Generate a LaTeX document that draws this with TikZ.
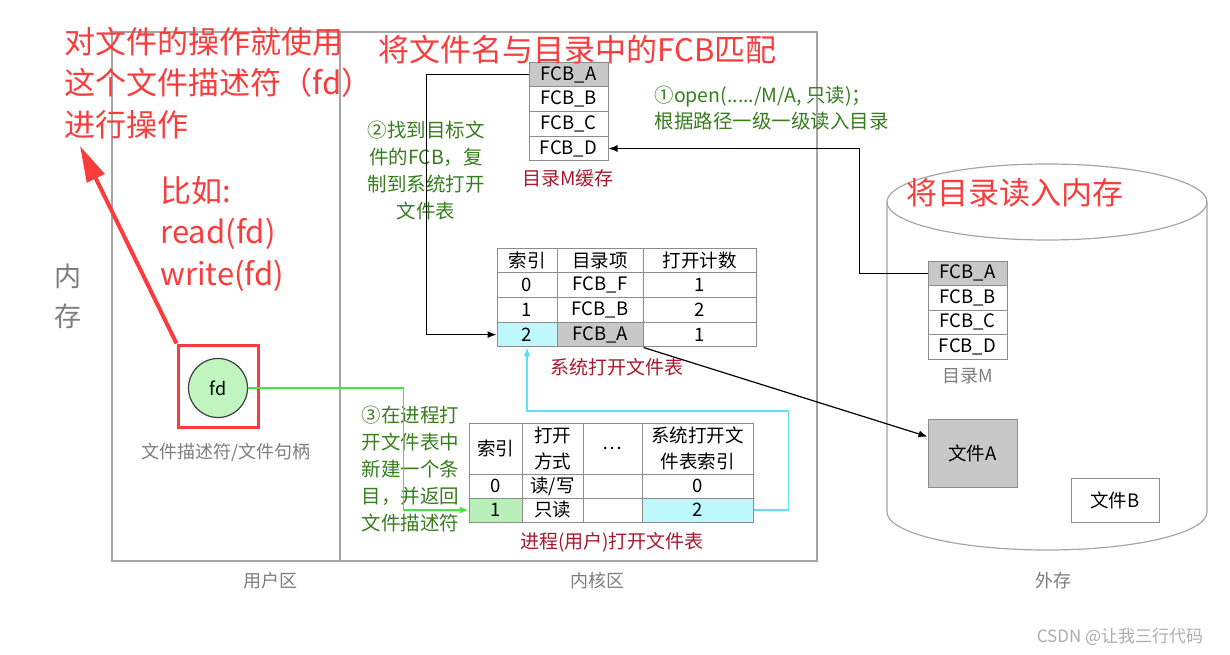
\documentclass[tikz,border=0pt]{standalone}
\usepackage{fontspec}
\setmainfont{Noto Sans CJK SC}
\usetikzlibrary{arrows.meta}
\definecolor{annored}{RGB}{250,60,60}
\definecolor{labelred}{RGB}{165,25,45}
\definecolor{stepgreen}{RGB}{55,125,30}
\definecolor{framegray}{RGB}{165,165,165}
\definecolor{textgray}{RGB}{125,125,125}
\definecolor{cellgray}{RGB}{200,200,200}
\definecolor{cellcyan}{RGB}{190,248,250}
\definecolor{cellgreen}{RGB}{185,240,185}
\definecolor{fdgreen}{RGB}{192,245,192}
\definecolor{linkgreen}{RGB}{60,235,60}
\definecolor{linkcyan}{RGB}{95,225,240}
\newcommand{\pxfont}[2]{\fontsize{#1}{#2}\selectfont}

\begin{document}
\begin{tikzpicture}[x=1pt,y=-1pt,
  frame/.style={draw=framegray, line width=1.2pt},
  cell/.style={draw=framegray!85!black, line width=1pt, inner sep=0pt, font=\pxfont{18.5}{26}, align=center},
  note/.style={text=annored, font=\pxfont{31}{41.5}, align=left},
  stepnote/.style={text=stepgreen, font=\pxfont{19.5}{27}},
  caption/.style={text=labelred, font=\pxfont{19}{22}},
  area/.style={text=textgray, font=\pxfont{18}{22}},
  link/.style={-{Latex[length=9pt,width=7pt]}, line width=1.2pt}]
\useasboundingbox (0,0) rectangle (1230,655);

% user area, kernel area, disk
\draw[frame] (112,32) rectangle (340,561);
\draw[frame] (340,32) rectangle (817,561);
\draw[frame] (887,202) -- (887,512) arc[start angle=180,end angle=360,x radius=160pt,y radius=38pt] -- (1207,202);
\draw[frame] (1047,202) ellipse[x radius=160pt,y radius=38pt];
\node[area] (user) at (270,581) {用户区};
\node[area] (kernel) at (597,581) {内核区};
\node[area] (disk) at (1053,581) {外存};
\node[area, font=\pxfont{27}{40}, align=center] (mem) at (68,296) {内\\存};

% directory M cached in memory
\node[cell, fill=cellgray, minimum width=79pt, minimum height=24.7pt] (mfcbA) at (568.5,74.4) {FCB\_A};
\foreach \n [count=\i] in {B,C,D}
  \node[cell, fill=white, minimum width=79pt, minimum height=24.7pt] (mfcb\n) at (568.5,74.4+24.7*\i) {FCB\_\n};
\node[caption] (mcap) at (568,178) {目录M缓存};

% directory M on disk
\node[cell, fill=cellgray, minimum width=79pt, minimum height=24.5pt] (dfcbA) at (967.5,273.3) {FCB\_A};
\foreach \n [count=\i] in {B,C,D}
  \node[cell, fill=white, minimum width=79pt, minimum height=24.5pt] (dfcb\n) at (967.5,273.3+24.5*\i) {FCB\_\n};
\node[area] (dcap) at (968,376) {目录M};
\node[cell, fill=cellgray, minimum width=89pt, minimum height=68pt] (filea) at (972.5,453) {文件A};
\node[cell, fill=white, minimum width=88pt, minimum height=44pt] (fileb) at (1115,500) {文件B};

% system open file table
\node[cell, minimum width=60pt, minimum height=24.75pt] (sha) at (527,260.4) {索引};
\node[cell, minimum width=86pt, minimum height=24.75pt] (shb) at (600,260.4) {目录项};
\node[cell, minimum width=113pt, minimum height=24.75pt] (shc) at (699.5,260.4) {打开计数};
\node[cell, minimum width=60pt, minimum height=24.75pt] (s0a) at (527,285.1) {0};
\node[cell, minimum width=86pt, minimum height=24.75pt] (s0b) at (600,285.1) {FCB\_F};
\node[cell, minimum width=113pt, minimum height=24.75pt] (s0c) at (699.5,285.1) {1};
\node[cell, minimum width=60pt, minimum height=24.75pt] (s1a) at (527,309.9) {1};
\node[cell, minimum width=86pt, minimum height=24.75pt] (s1b) at (600,309.9) {FCB\_B};
\node[cell, minimum width=113pt, minimum height=24.75pt] (s1c) at (699.5,309.9) {2};
\node[cell, fill=cellcyan, minimum width=60pt, minimum height=24.75pt] (s2a) at (527,334.6) {2};
\node[cell, fill=cellgray, minimum width=86pt, minimum height=24.75pt] (s2b) at (600,334.6) {FCB\_A};
\node[cell, minimum width=113pt, minimum height=24.75pt] (s2c) at (699.5,334.6) {1};
\node[caption] (scap) at (617,367) {系统打开文件表};

% process open file table
\node[cell, minimum width=53pt, minimum height=51pt] (pha) at (495.5,448.5) {索引};
\node[cell, minimum width=61pt, minimum height=51pt] (phb) at (552.5,448.5) {打开\\方式};
\node[cell, minimum width=59pt, minimum height=51pt] (phc) at (612.5,448.5) {\dots};
\node[cell, minimum width=111pt, minimum height=51pt] (phd) at (697.5,448.5) {系统打开文\\件表索引};
\node[cell, minimum width=53pt, minimum height=24pt] (p0a) at (495.5,486) {0};
\node[cell, minimum width=61pt, minimum height=24pt] (p0b) at (552.5,486) {读/写};
\node[cell, minimum width=59pt, minimum height=24pt] (p0c) at (612.5,486) {};
\node[cell, minimum width=111pt, minimum height=24pt] (p0d) at (697.5,486) {0};
\node[cell, fill=cellgreen, minimum width=53pt, minimum height=24pt] (p1a) at (495.5,510) {1};
\node[cell, minimum width=61pt, minimum height=24pt] (p1b) at (552.5,510) {只读};
\node[cell, minimum width=59pt, minimum height=24pt] (p1c) at (612.5,510) {};
\node[cell, fill=cellcyan, minimum width=111pt, minimum height=24pt] (p1d) at (697.5,510) {2};
\node[caption] (pcap) at (612,542) {进程(用户)打开文件表};

% file descriptor
\node[draw=annored, line width=3pt, minimum width=80pt, minimum height=82pt] (fdbox) at (218,386) {};
\node[circle, draw=black!75, line width=1.2pt, fill=fdgreen, minimum size=59pt, inner sep=0pt, font=\pxfont{18}{22}] (fd) at (218,388) {fd};
\node[area] (fdcap) at (226,452) {文件描述符/文件句柄};

% steps
\node[stepnote, font=\pxfont{19.5}{25.5}, align=left, anchor=west] (step1) at (651,108) {①open(...../M/A, 只读)；\\根据路径一级一级读入目录};
\node[stepnote, align=center] (step2) at (426,171) {②找到目标文\\件的FCB，复\\制到系统打开\\文件表};
\node[stepnote, align=left, anchor=west] (step3) at (358,469) {③在进程打\\开文件表中\\新建一个条\\目，并返回\\文件描述符};

% connectors
\draw[link] (dfcbA.west) -- ++(-68,0) |- (mfcbD.east);
\draw[link] (mfcbA.west) -- ++(-102,0) |- (s2a.west);
\draw[link] (s2b.south east) -- (filea.160);
\draw[link, linkgreen] (fd.east) -- ++(155,0) |- (p1a.west);
\draw[link, linkcyan] (p1d.east) -- ++(35,0) -- ++(0,-99) -| (s2a.south);

% red notes
\coordinate (notetip) at (80,146);
\draw[annored, line width=4pt, -{Triangle[length=36pt,width=19pt]}] (fdbox.north west) -- (notetip);
\node[note, anchor=west] (usage) at (61,83) {对文件的操作就使用\\这个文件描述符（fd）\\进行操作};
\node[note, anchor=west] (example) at (157,234) {比如:\\read(fd)\\write(fd)};
\node[note, anchor=west] (match) at (375,50) {将文件名与目录中的FCB匹配};
\node[note, anchor=west] (load) at (903,193) {将目录读入内存};

\node[text=gray!65, font=\pxfont{17}{20}] (mark) at (1120,637) {CSDN @让我三行代码};
\end{tikzpicture}
\end{document}
